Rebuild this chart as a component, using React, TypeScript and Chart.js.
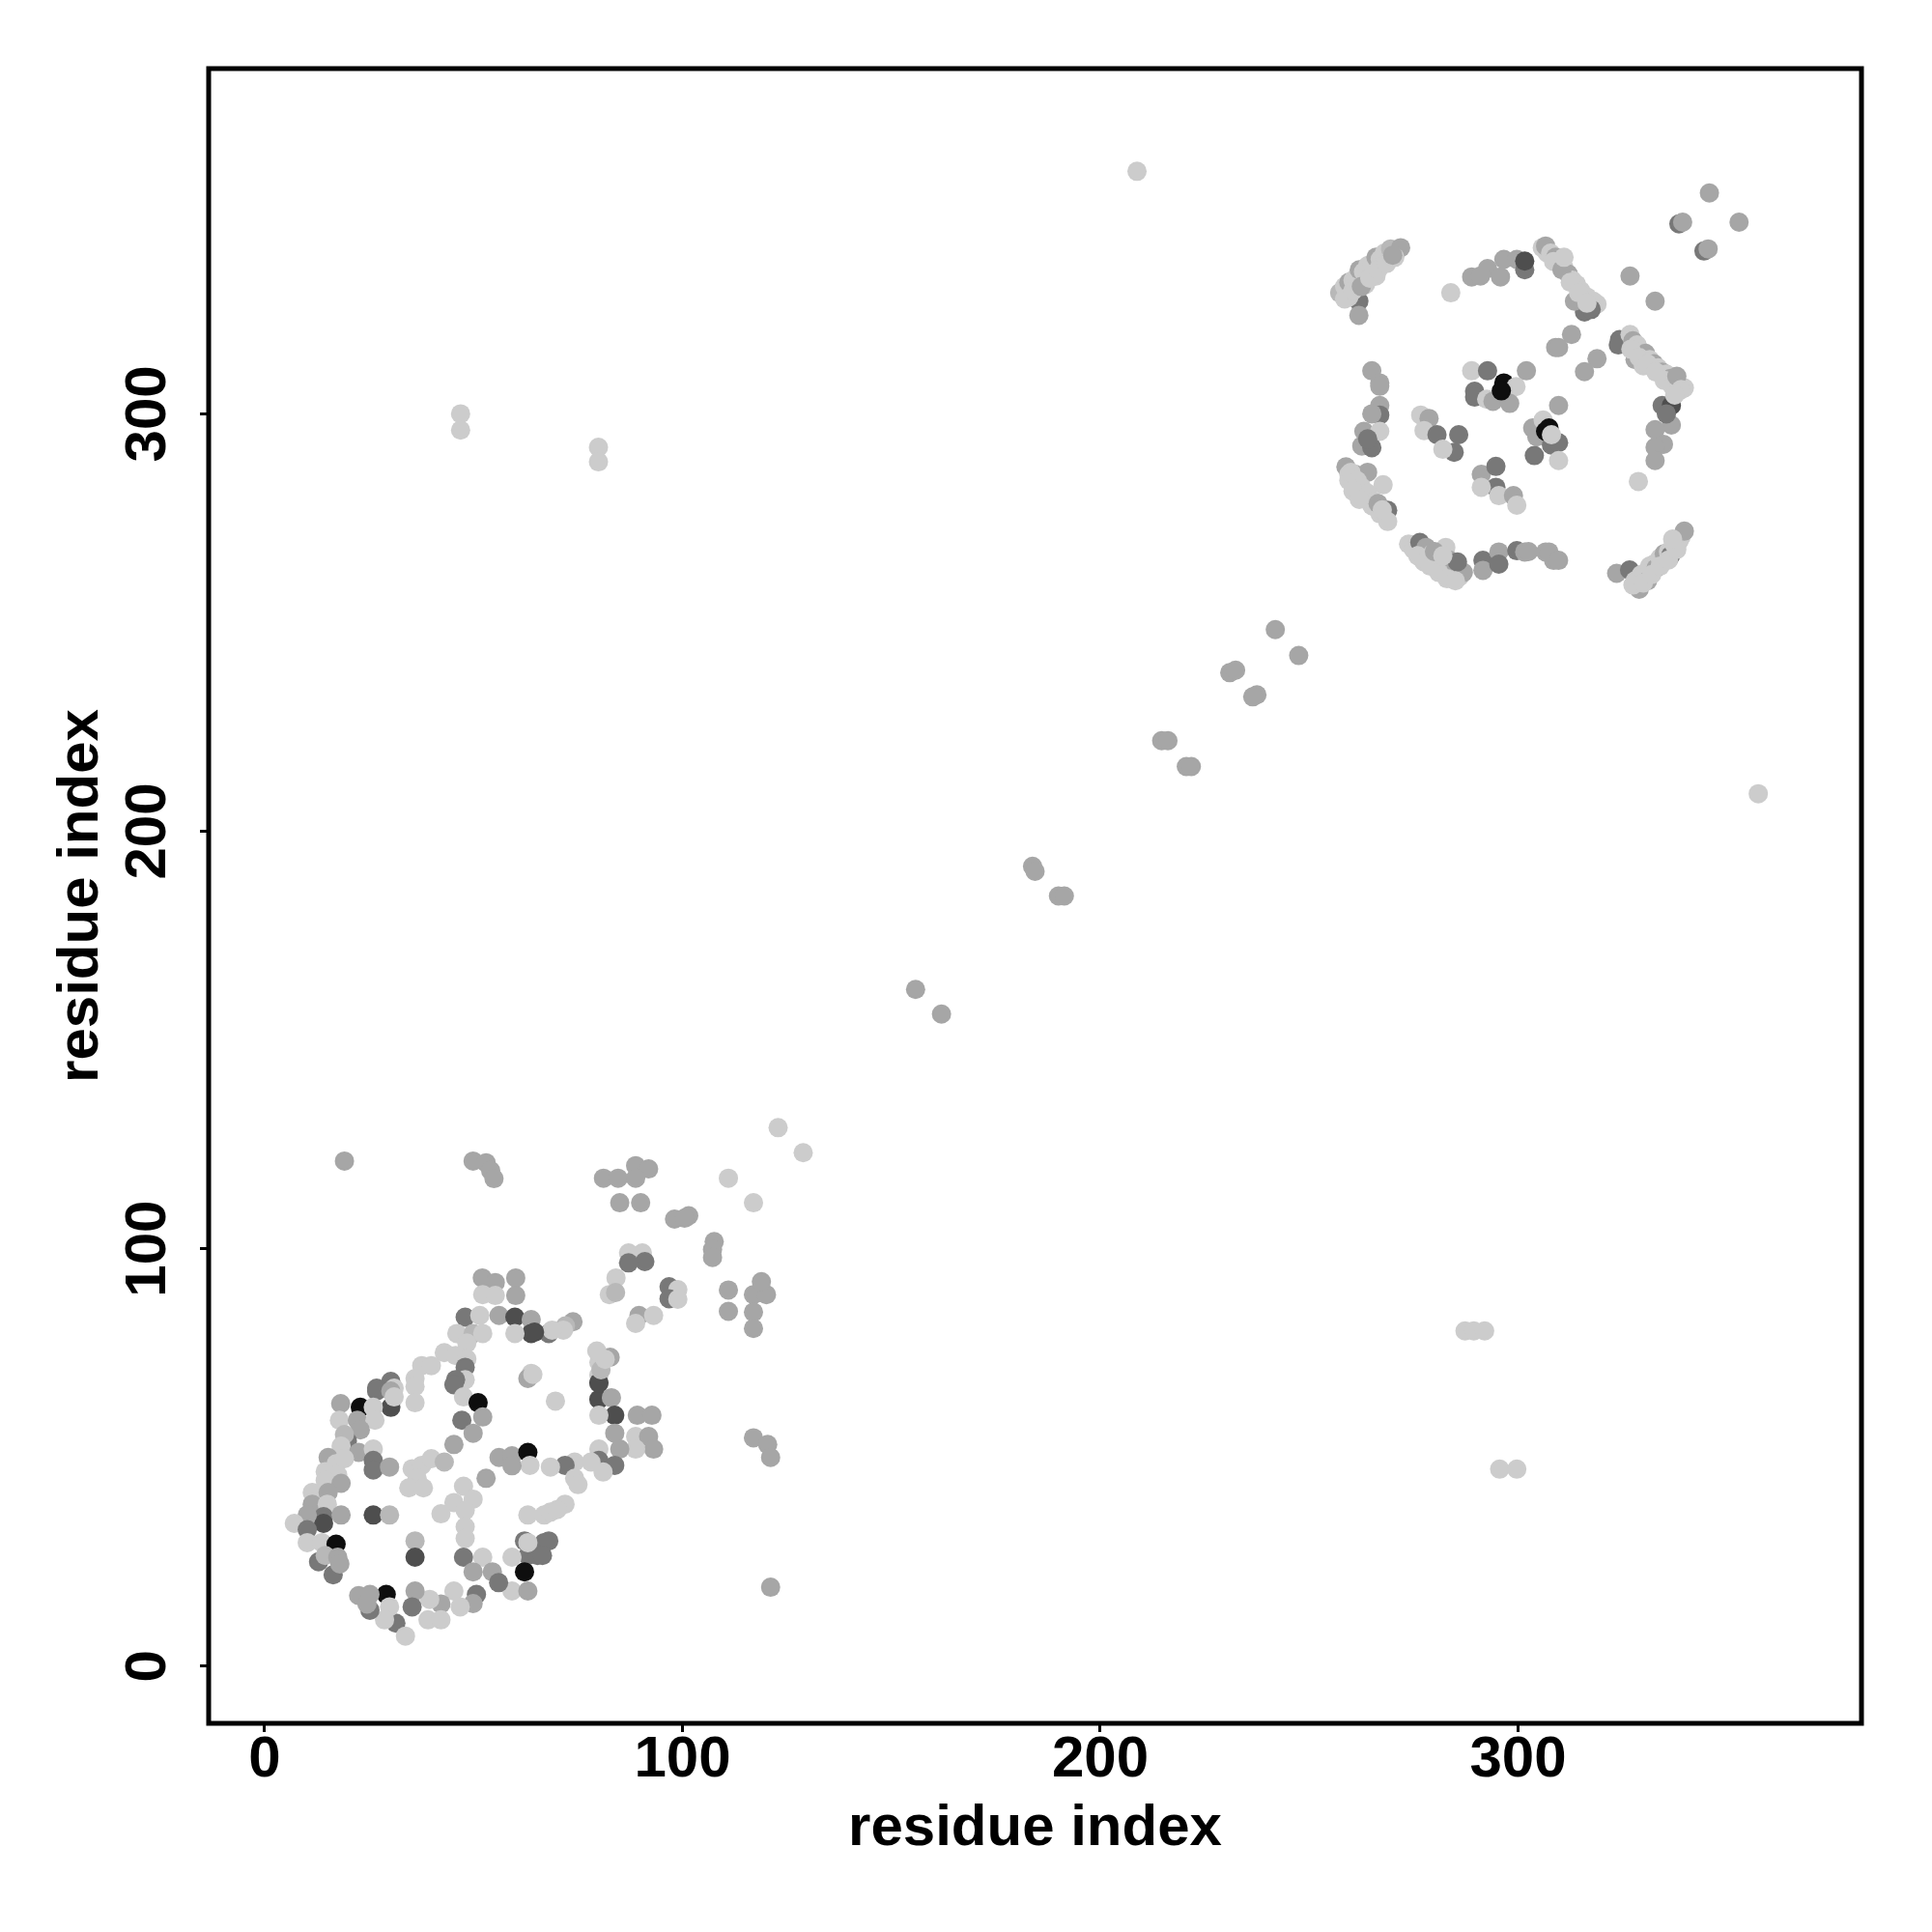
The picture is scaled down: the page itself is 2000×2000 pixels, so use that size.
import React, { useEffect, useRef } from 'react';
import { Chart, registerables } from 'chart.js';

Chart.register(...registerables);

// ---- axis data ----
const xTickValues = [0, 100, 200, 300];
const yTickValues = [0, 100, 200, 300];
const xAxisTitle = 'residue index';
const yAxisTitle = 'residue index';
const xRange = [-13.4, 382.2];
const yRange = [-13.7, 382.7];

// ---- contacts: [residue i, residue j, strength level 1 (weak/light) .. 6 (strong/black)] ----
const lowerLeftContacts: number[][] = [
  [19.1, 121.0, 3], [49.9, 121.0, 3], [53.0, 120.6, 3], [54.1, 118.7, 3], [54.9, 116.8, 3],
  [52.1, 93.0, 3], [55.2, 91.9, 3], [60.1, 93.0, 3], [52.2, 89.0, 1], [55.2, 88.8, 1], [60.1, 88.8, 3],
  [48.0, 83.6, 4], [51.5, 84.0, 1], [56.1, 84.0, 3], [59.9, 83.6, 5], [63.8, 83.0, 3], [63.8, 79.7, 5],
  [68.0, 79.7, 4], [59.9, 79.7, 1], [46.0, 79.7, 1], [49.9, 79.7, 2], [52.2, 79.7, 1], [48.4, 77.4, 1],
  [43.0, 75.1, 1], [45.7, 74.4, 1], [48.4, 73.6, 1], [48.0, 71.6, 4], [48.0, 68.6, 1], [45.7, 68.6, 4],
  [37.6, 72.0, 1], [39.9, 72.0, 1], [36.0, 68.9, 1], [63.8, 70.1, 1], [63.0, 68.9, 3], [30.2, 68.2, 4],
  [26.8, 66.6, 4], [31.0, 66.6, 1],
  [18.2, 62.9, 3], [22.9, 62.0, 6], [26.8, 65.9, 4], [30.2, 65.9, 3], [30.2, 62.0, 5], [26.0, 62.0, 1],
  [31.0, 64.5, 1], [36.0, 67.0, 1], [36.0, 63.1, 1], [17.9, 58.9, 1], [22.2, 58.9, 3], [26.4, 58.9, 1],
  [22.9, 56.6, 3], [19.8, 53.9, 4], [19.1, 55.5, 2], [18.3, 52.7, 1], [22.5, 51.2, 3], [26.0, 52.0, 1],
  [26.0, 49.3, 4], [26.0, 47.0, 4], [29.9, 47.7, 3], [15.2, 50.0, 3], [17.1, 48.5, 1], [19.1, 49.7, 1],
  [14.5, 46.6, 1], [17.5, 45.8, 1], [14.5, 44.5, 1], [18.3, 43.8, 3], [11.4, 41.6, 1], [15.2, 41.6, 3],
  [11.4, 38.8, 3], [15.0, 38.8, 1], [14.1, 35.8, 4], [14.1, 34.2, 5], [10.2, 36.2, 3], [7.1, 34.2, 1],
  [10.2, 32.7, 4], [10.2, 29.6, 1], [13.7, 29.6, 1], [17.1, 29.2, 6], [18.3, 36.2, 3], [12.9, 25.0, 4],
  [14.5, 26.5, 2], [17.5, 26.1, 3], [16.4, 21.9, 4], [18.0, 24.5, 3], [26.0, 36.2, 5], [29.9, 36.2, 2],
  [36.0, 30.0, 2], [36.0, 26.1, 5], [45.3, 53.1, 3], [35.3, 47.3, 1], [37.6, 48.1, 1], [39.9, 49.7, 1],
  [43.0, 48.9, 2], [36.5, 45.0, 1], [34.5, 42.7, 1], [38.0, 42.7, 1], [47.6, 43.1, 1], [53.0, 45.0, 3],
  [49.9, 40.0, 1], [45.3, 39.2, 1], [42.2, 36.5, 1], [48.0, 37.3, 1], [48.0, 33.4, 1], [48.0, 30.6, 1],
  [47.6, 26.1, 4], [52.2, 26.1, 1], [49.9, 22.6, 3], [45.3, 67.4, 4], [47.6, 64.5, 1], [51.1, 63.1, 6],
  [52.2, 59.7, 3], [47.2, 58.9, 4], [49.9, 55.8, 3], [56.1, 50.0, 3], [59.2, 50.4, 3], [63.0, 51.2, 6],
  [63.5, 48.1, 1], [59.2, 48.0, 3], [63.0, 36.2, 1], [66.9, 36.2, 1], [62.2, 30.0, 4], [63.0, 26.5, 4],
  [62.2, 22.6, 6], [65.3, 26.5, 4], [66.9, 29.6, 4], [59.2, 26.1, 1], [63.0, 29.6, 1], [54.5, 22.6, 3],
  [59.2, 18.0, 1], [63.0, 18.0, 3], [56.0, 20.0, 4], [50.7, 17.2, 4], [49.9, 15.0, 3], [45.3, 18.0, 1],
  [46.8, 14.2, 1], [42.2, 14.9, 3], [39.5, 16.0, 1], [36.0, 18.0, 3], [35.3, 14.2, 4], [39.1, 11.1, 1],
  [42.2, 11.1, 1], [31.4, 10.3, 4], [33.7, 7.2, 1], [29.1, 17.2, 6], [29.9, 14.2, 1], [28.7, 11.1, 1],
  [25.2, 13.4, 4], [22.5, 16.9, 3], [25.2, 17.2, 3], [24.5, 14.9, 3],
  [69.6, 63.5, 1], [80.0, 67.8, 4], [80.0, 63.9, 5], [83.0, 64.3, 3], [83.8, 60.1, 5], [80.0, 60.1, 1],
  [89.2, 60.1, 3], [92.7, 60.1, 3], [83.8, 55.8, 3], [88.8, 55.0, 1], [91.9, 55.0, 3], [93.1, 52.0, 3],
  [88.8, 52.0, 1], [85.0, 52.0, 3], [80.0, 52.0, 1], [80.0, 49.3, 4], [83.8, 48.1, 4], [81.0, 46.5, 1],
  [78.1, 48.9, 1], [74.2, 48.9, 1], [71.9, 48.1, 4], [68.4, 47.7, 1], [74.2, 45.0, 1], [75.0, 43.5, 1],
  [71.9, 38.8, 1], [68.4, 36.9, 1], [70.0, 37.5, 1], [68.0, 30.0, 4], [66.5, 26.5, 4],
  [117.0, 54.7, 3], [120.4, 53.1, 3], [121.1, 50.0, 3], [121.1, 18.9, 3],
  [122.9, 129.0, 1], [128.9, 123.0, 1], [81.1, 116.9, 3], [84.6, 116.9, 3], [88.8, 119.9, 3],
  [91.9, 119.1, 3], [88.8, 116.9, 3], [85.0, 111.0, 3], [90.0, 111.0, 3], [111.0, 116.9, 1],
  [117.0, 111.0, 1], [98.1, 107.1, 3], [101.5, 107.9, 3], [100.5, 107.3, 3], [107.6, 101.7, 3],
  [107.2, 99.8, 3], [107.2, 97.9, 3], [87.1, 99.0, 1], [90.4, 99.0, 1], [91.0, 96.9, 4], [87.1, 96.6, 4],
  [84.1, 93.0, 1], [82.5, 89.0, 1], [84.0, 89.5, 2], [96.8, 90.9, 4], [98.9, 90.2, 1], [96.8, 88.0, 4],
  [98.9, 87.9, 1], [111.0, 90.1, 3], [111.0, 85.0, 3], [117.0, 89.0, 3], [120.1, 89.0, 3],
  [118.9, 92.1, 3], [117.0, 84.8, 3], [117.0, 80.9, 3], [89.6, 84.0, 3], [93.1, 84.0, 1], [88.8, 82.1, 1],
  [73.8, 82.5, 3], [72.0, 81.5, 2], [71.5, 80.5, 1], [68.8, 80.5, 1], [64.6, 80.0, 5], [82.7, 74.0, 3],
  [80.0, 72.8, 1], [80.0, 69.7, 1], [80.0, 67.9, 5], [64.2, 69.9, 1], [80.5, 71.0, 2], [81.5, 73.5, 1],
  [79.5, 75.5, 1],
];

const diagonalContacts: number[][] = [
  [155.8, 162.1, 3], [162.0, 156.2, 3], [183.8, 191.6, 3], [184.4, 190.4, 3], [190.0, 184.5, 3],
  [191.4, 184.5, 3], [214.7, 221.7, 3], [216.2, 221.7, 3], [220.6, 215.5, 3], [221.8, 215.5, 3],
  [231.0, 238.0, 3], [232.4, 238.6, 3], [237.5, 232.7, 3], [236.5, 232.2, 3], [241.9, 248.3, 3],
  [247.5, 242.1, 3],
];

const offDiagonalContacts: number[][] = [
  [208.8, 358.1, 1], [357.5, 209.0, 1], [46.9, 300.0, 1], [46.9, 296.1, 1], [79.9, 292.0, 1],
  [79.9, 288.5, 1], [287.3, 80.3, 1], [289.4, 80.3, 1], [292.0, 80.3, 1], [295.6, 47.2, 1],
  [299.7, 47.2, 1],
];

const upperRightContacts: number[][] = [
  [257.3, 329.0, 2], [258.5, 330.5, 1], [259.5, 331.5, 3], [260.5, 332.0, 1], [261.5, 333.0, 1],
  [262.0, 334.5, 3], [263.0, 334.0, 1], [264.0, 335.5, 1], [265.0, 336.0, 1], [266.0, 337.5, 3],
  [267.0, 337.0, 1], [268.0, 338.5, 1], [269.5, 339.5, 2], [271.9, 339.8, 3], [261.9, 327.0, 4],
  [261.9, 323.6, 3], [259.5, 328.0, 1], [263.5, 331.0, 1], [266.0, 333.0, 1],
  [258.5, 327.5, 1], [260.5, 329.5, 1], [262.5, 330.5, 3], [264.5, 332.5, 1], [266.5, 334.5, 1],
  [268.5, 336.0, 1], [270.5, 337.5, 1], [270.0, 338.0, 3],
  [283.9, 329.0, 1], [288.9, 332.8, 3], [292.7, 334.8, 3], [291.0, 333.0, 3], [295.8, 332.8, 3],
  [296.6, 337.0, 3], [299.7, 337.0, 3], [301.6, 334.5, 4], [301.6, 336.6, 5], [305.8, 339.8, 1],
  [307.0, 338.5, 1], [265.0, 310.3, 3], [266.9, 307.4, 3], [288.9, 310.3, 1], [292.7, 310.3, 4],
  [289.6, 305.4, 4], [296.6, 307.4, 6], [299.5, 306.5, 1], [302.0, 310.3, 3], [309.0, 315.9, 3],
  [345.8, 352.9, 3], [338.5, 345.5, 4], [339.4, 345.9, 3], [352.9, 345.9, 3], [344.5, 339.0, 4],
  [345.5, 339.5, 3], [326.8, 333.0, 3], [332.8, 327.0, 3],
  [306.6, 340.2, 3], [307.8, 338.5, 1], [309.0, 337.5, 3], [310.0, 336.0, 1], [311.0, 335.0, 1],
  [312.0, 333.5, 3], [313.0, 332.0, 1], [314.0, 331.0, 1], [315.0, 329.5, 1], [316.5, 328.0, 1],
  [318.0, 327.0, 1], [318.9, 326.3, 1], [315.9, 324.4, 4], [317.5, 325.0, 4], [313.5, 327.0, 3],
  [308.5, 336.5, 1], [310.5, 334.5, 3], [312.5, 331.5, 1], [314.5, 329.0, 1], [316.5, 326.5, 1],
  [311.0, 337.5, 1],
  [312.8, 319.0, 3], [309.7, 315.9, 3], [318.9, 313.2, 3], [315.9, 310.1, 3], [324.3, 317.8, 4],
  [324.0, 316.5, 4], [326.8, 319.0, 1],
  [327.5, 317.5, 3], [328.5, 316.5, 1], [329.5, 315.0, 1], [330.5, 314.5, 3], [331.5, 313.0, 1],
  [332.5, 312.0, 3], [333.5, 311.0, 1], [334.5, 310.0, 3], [335.5, 309.5, 1], [336.5, 308.5, 3],
  [337.5, 307.5, 1], [339.0, 306.5, 1], [339.8, 306.2, 1], [328.0, 313.0, 3], [330.0, 311.5, 1],
  [327.0, 315.5, 1], [329.0, 313.5, 1], [331.0, 312.0, 1], [333.0, 310.0, 1], [335.0, 308.0, 1],
  [337.0, 306.5, 1], [338.0, 309.0, 3],
  [266.9, 306.6, 3], [266.9, 302.0, 3], [266.9, 299.7, 4], [265.0, 300.0, 3], [263.1, 295.8, 3],
  [266.9, 295.8, 1], [262.6, 292.3, 3], [265.0, 291.9, 4], [264.0, 294.0, 4], [276.7, 299.7, 1],
  [278.7, 298.9, 3], [277.5, 296.0, 1], [280.6, 295.0, 4], [285.8, 295.0, 4], [284.7, 290.8, 4],
  [282.0, 291.5, 1], [289.6, 304.0, 4], [292.5, 303.5, 1], [294.0, 303.0, 3], [298.0, 302.5, 3],
  [296.0, 305.5, 6], [303.5, 296.6, 3], [306.0, 298.5, 1], [304.5, 294.5, 3], [306.6, 295.8, 6],
  [303.9, 290.0, 4], [308.0, 292.5, 4],
  [258.8, 287.3, 3], [259.5, 285.5, 1], [259.5, 284.0, 1], [260.5, 283.0, 1], [261.0, 285.5, 3],
  [261.5, 282.0, 1], [262.5, 281.0, 1], [263.5, 280.0, 3], [264.5, 279.5, 1], [265.0, 278.0, 1],
  [266.0, 277.5, 1], [267.0, 276.0, 1], [268.8, 276.9, 4], [268.8, 274.2, 1], [267.7, 283.0, 1],
  [264.0, 286.0, 3],
  [260.0, 286.0, 1], [261.5, 284.0, 1], [262.5, 282.5, 1], [264.0, 281.0, 1], [265.5, 279.0, 1],
  [266.5, 278.5, 3], [267.5, 277.0, 1], [260.5, 281.5, 1], [262.0, 279.5, 1],
  [273.8, 268.8, 1], [275.0, 267.5, 1], [276.5, 269.2, 4], [277.0, 266.5, 1], [278.0, 268.0, 3],
  [278.5, 265.5, 1], [279.5, 266.5, 1], [280.0, 264.0, 1], [281.0, 263.5, 1], [282.7, 268.0, 1],
  [282.5, 262.5, 1], [283.5, 265.0, 3], [284.0, 261.5, 1], [285.0, 262.5, 3], [286.0, 261.0, 1],
  [286.9, 262.0, 3], [285.5, 264.5, 4],
  [276.0, 266.0, 1], [277.5, 264.5, 1], [279.0, 263.5, 1], [281.0, 262.0, 1], [283.0, 260.5, 1],
  [285.0, 260.0, 1], [280.0, 267.0, 3], [282.0, 266.0, 1],
  [291.6, 264.9, 4], [291.6, 262.5, 3], [295.4, 266.9, 3],
  [295.4, 264.0, 4], [299.7, 267.2, 4], [301.6, 266.9, 3], [302.5, 267.0, 3], [306.6, 266.9, 3],
  [308.5, 264.9, 3],
  [291.2, 285.5, 3], [294.7, 287.4, 4], [294.7, 282.4, 4], [291.2, 282.4, 1], [295.4, 280.4, 1],
  [298.9, 280.4, 3], [299.7, 278.1, 1],
  [309.7, 302.0, 3], [307.4, 296.6, 6], [309.7, 293.1, 4], [309.7, 288.8, 1], [308.0, 295.0, 1],
  [334.5, 302.0, 4], [336.7, 302.0, 5], [336.7, 297.3, 3], [332.8, 296.2, 3], [334.8, 292.7, 3],
  [332.8, 292.0, 3], [332.8, 288.8, 3], [335.5, 300.0, 4], [339.0, 305.8, 1], [337.5, 304.5, 1],
  [328.8, 283.8, 1], [307.4, 266.9, 3], [309.7, 264.9, 3],
  [323.6, 261.8, 3], [326.7, 262.6, 4], [329.0, 258.0, 3], [328.0, 260.0, 1], [329.5, 261.5, 1],
  [330.5, 262.0, 1], [331.5, 263.5, 1], [332.5, 264.0, 1], [333.0, 263.0, 3], [334.0, 265.5, 1],
  [335.0, 266.5, 3], [336.0, 267.0, 1], [336.5, 266.0, 4], [337.5, 268.5, 1], [338.5, 269.5, 1],
  [339.0, 270.5, 1], [339.8, 271.9, 3], [331.0, 260.0, 3],
  [327.5, 259.0, 1], [330.0, 259.5, 1], [332.0, 261.5, 1], [334.0, 263.5, 1], [336.0, 265.0, 1],
  [338.0, 267.5, 1], [337.0, 270.0, 1],
];

// gray value used for each strength level (style)
const levelGray = [0, 204, 184, 166, 120, 78, 14];

const FONT = 'bold 60px "Liberation Sans", Arial, Helvetica, sans-serif';

const framePlugin = {
  id: 'rFrame',
  afterDraw(chart: any) {
    const { ctx, chartArea } = chart;
    const xs = chart.scales.x;
    const ys = chart.scales.y;
    ctx.save();
    ctx.strokeStyle = '#000';
    ctx.lineWidth = 5;
    ctx.strokeRect(chartArea.left, chartArea.top, chartArea.right - chartArea.left, chartArea.bottom - chartArea.top);
    ctx.fillStyle = '#000';
    ctx.font = FONT;
    ctx.textBaseline = 'alphabetic';
    ctx.textAlign = 'center';
    xs.ticks.forEach((t: any) => {
      ctx.fillText(String(t.value), xs.getPixelForValue(t.value), 1839);
    });
    ys.ticks.forEach((t: any) => {
      ctx.save();
      ctx.translate(171, ys.getPixelForValue(t.value));
      ctx.rotate(-Math.PI / 2);
      ctx.fillText(String(t.value), 0, 0);
      ctx.restore();
    });
    ctx.fillText(xAxisTitle, (chartArea.left + chartArea.right) / 2, 1910);
    ctx.save();
    ctx.translate(101, (chartArea.top + chartArea.bottom) / 2);
    ctx.rotate(-Math.PI / 2);
    ctx.fillText(yAxisTitle, 0, 0);
    ctx.restore();
    ctx.restore();
  },
};

export default function App() {
  const ref = useRef<HTMLCanvasElement>(null);
  useEffect(() => {
    const all = [...lowerLeftContacts, ...diagonalContacts, ...offDiagonalContacts, ...upperRightContacts];
    const colors = all.map((p) => {
      const g = levelGray[p[2]];
      return `rgb(${g},${g},${g})`;
    });
    const axisCommon = {
      type: 'linear' as const,
      ticks: { display: false },
      grid: { display: true, drawOnChartArea: false, drawTicks: true, tickLength: 9, tickWidth: 3, tickColor: '#000' },
      border: { display: false },
    };
    const chart = new Chart(ref.current as HTMLCanvasElement, {
      type: 'scatter',
      data: {
        datasets: [
          {
            data: all.map((p) => ({ x: p[0], y: p[1] })),
            pointBackgroundColor: colors,
            pointBorderWidth: 0,
            pointRadius: 10,
            pointHoverRadius: 10,
          },
        ],
      },
      options: {
        responsive: false,
        animation: false,
        events: [],
        layout: { padding: { left: 0, right: 73, top: 71, bottom: 0 } },
        plugins: { legend: { display: false }, tooltip: { enabled: false } },
        scales: {
          x: {
            ...axisCommon,
            min: xRange[0],
            max: xRange[1],
            afterBuildTicks: (s: any) => {
              s.ticks = xTickValues.map((v) => ({ value: v }));
            },
            afterFit: (s: any) => {
              s.height = 216;
            },
          },
          y: {
            ...axisCommon,
            min: yRange[0],
            max: yRange[1],
            afterBuildTicks: (s: any) => {
              s.ticks = yTickValues.map((v) => ({ value: v }));
            },
            afterFit: (s: any) => {
              s.width = 216;
            },
          },
        },
      } as any,
      plugins: [framePlugin],
    });
    return () => chart.destroy();
  }, []);
  return (
    <div style={{ position: 'absolute', left: 0, top: 0, width: 2000, height: 2000, background: '#fff' }}>
      <canvas ref={ref} width={2000} height={2000} style={{ width: 2000, height: 2000, display: 'block' }} />
    </div>
  );
}
